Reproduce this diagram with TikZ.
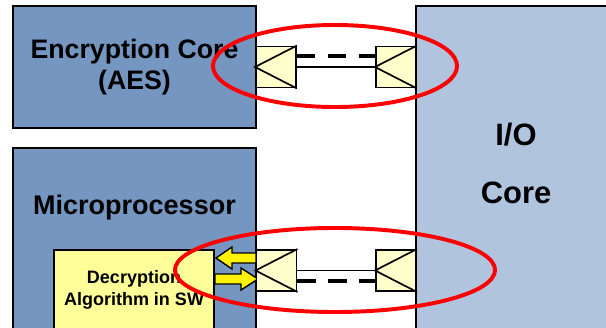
\documentclass[tikz,border=0pt]{standalone}
\usepackage{fontspec}
\setmainfont{Liberation Sans}
\usetikzlibrary{shapes,arrows}

\definecolor{coreblue}{RGB}{116,150,192}
\definecolor{iocoreblue}{RGB}{176,196,222}
\definecolor{swyellow}{RGB}{255,255,153}
\definecolor{padyellow}{RGB}{255,255,204}

\begin{document}
\begin{tikzpicture}[x=0.025cm, y=-0.025cm]
		\tikzstyle {block} = [draw=black, line width=1.4pt, fill=coreblue]
		\tikzstyle {pad} = [draw=black, line width=1.4pt, fill=padyellow, minimum width=1cm, minimum height=1.025cm, inner sep=0pt]
		\tikzstyle {bus} = [line width=1.4pt]
		\tikzstyle {bus dash} = [line width=3pt, dash pattern=on 13pt off 9pt]
		\tikzstyle {fat arrow} = [draw=black, line width=1pt, fill=yellow]
		\tikzstyle {ring} = [draw=red, line width=2.8pt]

		\useasboundingbox (0,0) rectangle (606,328);
		\clip (0,0) rectangle (606,328);

		% blocks
		\node[block, minimum width=6.075cm, minimum height=3.05cm, align=center,
		      font=\bfseries\fontsize{19}{22.5}\selectfont] (enc) at (134.5,67)
		      {Encryption Core\\(AES)};
		\node[block, minimum width=6.075cm, minimum height=4.8cm] (micro) at (134.5,244) {};
		\node[font=\bfseries\fontsize{19.2}{22}\selectfont] (microtext) at (134.5,208) {Microprocessor};
		\node[block, fill=swyellow, minimum width=4cm, minimum height=2.5cm] (dec) at (134,300) {};
		\node[align=center, font=\bfseries\fontsize{12.8}{15.5}\selectfont] (dectext) at (134,290)
		      {Decryption\\Algorithm in SW};
		\node[block, fill=iocoreblue, minimum width=5.1cm, minimum height=8.5cm] (io) at (518,176) {};
		\node[font=\bfseries\fontsize{22}{26}\selectfont] (iotext) at (516,135) {I/O};
		\node[font=\bfseries\fontsize{22}{26}\selectfont] (coretext) at (516,193) {Core};

		% yellow arrows
		\draw[fat arrow] (216,258) -- (232,247) -- (232,253) -- (256,253) -- (256,263)
		      -- (232,263) -- (232,269) -- cycle;
		\draw[fat arrow] (215,274) -- (241,274) -- (241,268) -- (258,279) -- (241,290)
		      -- (241,284) -- (215,284) -- cycle;

		% pads
		\node[pad] (encpad) at (276,67) {};
		\node[pad] (iopadtop) at (396,67) {};
		\node[pad] (micropad) at (276.5,270.5) {};
		\node[pad] (iopadbot) at (396,270.5) {};
		\foreach \p in {encpad, iopadtop, micropad, iopadbot}
			\draw[line width=1.2pt] (\p.north east) -- (\p.west) -- (\p.south east);

		% links
		\draw[bus] (encpad.east) -- (iopadtop.west);
		\draw[bus dash] ([yshift=7.8pt]encpad.east) -- ([yshift=7.8pt]iopadtop.west);
		\draw[bus] (micropad.east) -- (iopadbot.west);
		\draw[bus dash] ([yshift=-7.5pt]micropad.east) -- ([yshift=-7.5pt]iopadbot.west);

		% rings
		\draw[ring] (335,66) ellipse (3.05cm and 1.025cm);
		\draw[ring] (335,270) ellipse (4cm and 1.05cm);
\end{tikzpicture}
\end{document}
